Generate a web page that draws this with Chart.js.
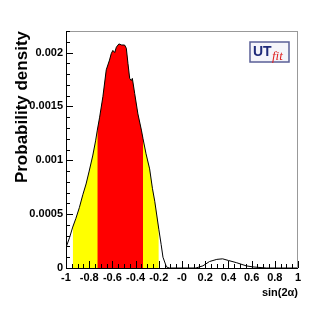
<!DOCTYPE html>
<html>
<head>
<meta charset="utf-8">
<script src="https://cdn.jsdelivr.net/npm/chart.js@4.4.1/dist/chart.umd.min.js"></script>
<style>
  html, body { margin: 0; padding: 0; background: #fff; }
  #wrap { width: 332px; height: 316px; }
</style>
</head>
<body>
<div id="wrap"><canvas id="pdfChart" width="332" height="316"></canvas></div>
<script>
const pdfChart = document.getElementById("pdfChart");

// sin(2alpha) sample positions and probability density
const xs = [
  -1, -0.97, -0.942, -0.915, -0.885, -0.855, -0.827, -0.8, -0.77, -0.745,
  -0.73, -0.71, -0.682, -0.653, -0.625, -0.61, -0.596, -0.58, -0.566, -0.544,
  -0.52, -0.495, -0.48, -0.466, -0.451, -0.437, -0.428, -0.408, -0.38, -0.35,
  -0.336, -0.31, -0.279, -0.255, -0.235, -0.2, -0.18, -0.164, -0.134, -0.11,
  0.12, 0.18, 0.237, 0.3, 0.35, 0.4, 0.468, 0.554, 0.611, 0.727, 1,
];
const density = [
  0.00019, 0.00028, 0.00038, 0.00046, 0.00056, 0.00068, 0.00078, 0.0009, 0.00104, 0.00118,
  0.00128, 0.0014, 0.00159, 0.00184, 0.00193, 0.00199, 0.00202, 0.002, 0.00205, 0.00208,
  0.00207, 0.00207, 0.00204, 0.0019, 0.00176, 0.00174, 0.00176, 0.00162, 0.00143, 0.00128,
  0.0012, 0.00106, 0.00092, 0.00074, 0.00062, 0.00036, 0.00022, 0.0001, 0.00001, 0,
  0, 0.00002, 0.00006, 0.00008, 0.000085, 0.00007, 0.00005, 0.00002, 0.00001, 0, 0,
];
// 95% (yellow) and 68% (red) intervals
const band95 = [-0.942, -0.2];
const band68 = [-0.73, -0.336];

const xTicks = [-1, -0.8, -0.6, -0.4, -0.2, 0, 0.2, 0.4, 0.6, 0.8, 1];
const yTicks = [0, 0.0005, 0.001, 0.0015, 0.002];

const points = xs.map((x, i) => ({ x: x, y: density[i] }));
const inBand = (b) => points.filter((p) => p.x >= b[0] - 1e-9 && p.x <= b[1] + 1e-9);

const FONT = "'Liberation Sans', Arial, Helvetica, sans-serif";

// ROOT-style frame: inner ticks, titles and the UTfit logo
const rootFrame = {
  id: "rootFrame",
  afterDraw(chart) {
    const ctx = chart.ctx;
    const a = chart.chartArea;
    const sx = chart.scales.x;
    const sy = chart.scales.y;
    ctx.save();
    // frame
    ctx.strokeStyle = "#999";
    ctx.lineWidth = 1;
    ctx.strokeRect(a.left + 0.5, a.top + 0.5, a.right - a.left - 1, a.bottom - a.top);
    ctx.strokeStyle = "#000";
    ctx.beginPath();
    ctx.moveTo(a.left + 0.5, a.top);
    ctx.lineTo(a.left + 0.5, a.bottom + 0.5);
    ctx.lineTo(a.right, a.bottom + 0.5);
    ctx.stroke();
    // x ticks, every 0.05, major every 0.2
    ctx.beginPath();
    for (let i = 0; i <= 40; i++) {
      const v = -1 + i * 0.05;
      const px = Math.round(sx.getPixelForValue(v)) + 0.5;
      const len = i % 4 === 0 ? 7 : 4;
      ctx.moveTo(px, a.bottom);
      ctx.lineTo(px, a.bottom - len);
    }
    // y ticks, every 0.0001, major every 0.0005
    for (let i = 0; i <= 22; i++) {
      const v = i * 0.0001;
      const py = Math.round(sy.getPixelForValue(v)) + 0.5;
      const len = i % 5 === 0 ? 7 : 4;
      ctx.moveTo(a.left, py);
      ctx.lineTo(a.left + len, py);
    }
    ctx.stroke();
    // axis titles
    ctx.fillStyle = "#000";
    ctx.font = "bold 11px " + FONT;
    ctx.textAlign = "right";
    ctx.textBaseline = "alphabetic";
    ctx.fillText("sin(2\u03b1)", a.right, 296);
    ctx.save();
    ctx.translate(27, a.top);
    ctx.rotate(-Math.PI / 2);
    ctx.font = "bold 17px " + FONT;
    ctx.textAlign = "right";
    ctx.fillText("Probability density", 0, 0);
    ctx.restore();
    // logo
    ctx.fillStyle = "#f4f4fa";
    ctx.fillRect(250, 42, 39, 20);
    ctx.strokeStyle = "#5a5f96";
    ctx.lineWidth = 1.5;
    ctx.strokeRect(250, 42, 39, 20);
    ctx.textAlign = "left";
    ctx.fillStyle = "#1f2a7a";
    ctx.font = "bold 14px " + FONT;
    ctx.fillText("UT", 253, 56);
    ctx.fillStyle = "#e02020";
    ctx.font = "italic 13px 'Liberation Serif', 'DejaVu Serif', serif";
    ctx.fillText("fit", 272, 60);
    ctx.restore();
  },
};

new Chart(pdfChart, {
  type: "line",
  data: {
    datasets: [
      {
        data: inBand(band95),
        backgroundColor: "#ffff00",
        borderWidth: 0,
        fill: "origin",
        pointRadius: 0,
        order: 3,
      },
      {
        data: inBand(band68),
        backgroundColor: "#ff0000",
        borderWidth: 0,
        fill: "origin",
        pointRadius: 0,
        order: 2,
      },
      {
        data: points,
        borderColor: "#000",
        borderWidth: 1,
        fill: false,
        pointRadius: 0,
        order: 1,
      },
    ],
  },
  plugins: [rootFrame],
  options: {
    responsive: false,
    animation: false,
    events: [],
    layout: { padding: { top: 31, right: 34, left: 0, bottom: 0 } },
    plugins: {
      legend: { display: false },
      tooltip: { enabled: false },
    },
    scales: {
      x: {
        type: "linear",
        min: -1,
        max: 1,
        afterFit: (s) => { s.height = 48; },
        afterBuildTicks: (s) => { s.ticks = xTicks.map((v) => ({ value: v })); },
        grid: { display: false, drawTicks: false },
        border: { display: false },
        ticks: {
          padding: 3,
          maxRotation: 0,
          autoSkip: false,
          color: "#000",
          font: { family: FONT, size: 11, weight: "bold" },
          callback: (v) => (Math.abs(v) < 1e-9 ? "-0" : String(Math.round(v * 10) / 10)),
        },
      },
      y: {
        min: 0,
        max: 0.0022,
        afterFit: (s) => { s.width = 66; },
        afterBuildTicks: (s) => { s.ticks = yTicks.map((v) => ({ value: v })); },
        grid: { display: false, drawTicks: false },
        border: { display: false },
        ticks: {
          padding: 3,
          color: "#000",
          font: { family: FONT, size: 11, weight: "bold" },
          callback: (v) => String(v),
        },
      },
    },
  },
});
</script>
</body>
</html>
